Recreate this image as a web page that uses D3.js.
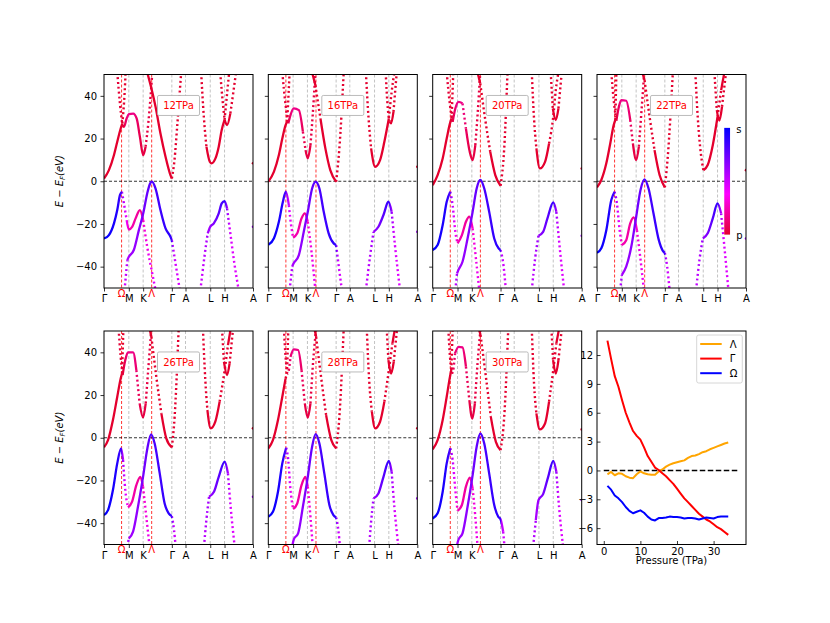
<!DOCTYPE html>
<html>
<head>
<meta charset="utf-8">
<script src="https://cdn.jsdelivr.net/npm/d3@7"></script>
<style>
body { margin: 0; background: #fff; }
svg { font-family: "DejaVu Sans", sans-serif; }
</style>
</head>
<body>
<svg id="fig" width="830" height="623"></svg>
<script>
// ---- k-path ----
var kTicks = [0, 0.1666, 0.2627, 0.4553, 0.547, 0.713, 0.809, 1];
var kLabels = ["Γ", "M", "K", "Γ", "A", "L", "H", "A"];
var kSpecial = [0.118, 0.32];
var kSpecialLabels = ["Ω", "Λ"];

var pressures = [12, 16, 20, 22, 26, 28, 30];

// bands: [k, E-Ef]
var bands12 = {
  Ca: [[0,1.3],[0.033,5.2],[0.067,12.3],[0.089,18.5],[0.112,24.7],[0.123,27],[0.138,41],[0.145,51]],
  Cb: [[0.089,51],[0.107,36.4],[0.123,26.3],[0.134,25.5],[0.152,29.4],[0.167,31.4],[0.196,31.7],[0.219,29.4],[0.241,20.8],[0.263,12.2],[0.279,16.2],[0.297,27],[0.3125,39.6],[0.324,51]],
  Cc: [[0.29,51],[0.318,43.5],[0.346,34.9],[0.379,22.4],[0.413,11.5],[0.446,2.9],[0.4553,1.3],[0.473,9.9],[0.491,25.5],[0.518,51]],
  Cd: [[0.652,51],[0.67,30.2],[0.6875,16.2],[0.71,9.1],[0.721,8.4],[0.748,10.7],[0.77,16.2],[0.79,24],[0.809,28.7],[0.826,41],[0.84,51]],
  Ce: [[0.78,51],[0.8,34.9],[0.81,28.7],[0.826,26.3],[0.848,31.8],[0.87,42.7],[0.886,51]],
  Va: [[0,-26.8],[0.033,-25.2],[0.067,-19.7],[0.089,-13.5],[0.107,-6.5],[0.12,-4.9],[0.134,-10.4],[0.152,-18.2],[0.1666,-22.6],[0.19,-21.3],[0.212,-17.4],[0.241,-13.5],[0.263,-18.2],[0.29,-30.7],[0.324,-43.2],[0.346,-51]],
  Vb: [[0.138,-51],[0.156,-37],[0.1666,-35.4],[0.2,-32.2],[0.234,-22.9],[0.263,-15.1],[0.29,-5.7],[0.31,-1],[0.322,-0.2],[0.346,-3.4],[0.379,-13.5],[0.413,-22.1],[0.446,-26],[0.4553,-27.6],[0.48,-38.5],[0.509,-51]],
  Vc: [[0.647,-51],[0.674,-35.4],[0.696,-24.4],[0.713,-21.3],[0.737,-19.7],[0.77,-15],[0.79,-10.4],[0.809,-9.3],[0.826,-12.7],[0.848,-24.4],[0.875,-38.5],[0.904,-51]]
};
var bands16 = {
  Ca: [[0,-0.2],[0.038,4.5],[0.071,12.3],[0.094,20],[0.116,26.3],[0.127,27.9],[0.143,51]],
  Cb: [[0.094,51],[0.116,35.7],[0.134,27.1],[0.149,31],[0.171,34.1],[0.205,33.3],[0.232,23.2],[0.25,14.6],[0.265,10.7],[0.283,16.9],[0.298,31],[0.316,51]],
  Cc: [[0.294,51],[0.316,45],[0.35,29.4],[0.383,15.4],[0.416,5.2],[0.4553,-0.2],[0.477,15.4],[0.506,51]],
  Cd: [[0.655,51],[0.673,29.4],[0.69,15.4],[0.717,6.8],[0.75,9.9],[0.779,18.5],[0.809,29.4],[0.828,41.9],[0.846,51]],
  Ce: [[0.788,51],[0.802,34.1],[0.815,27.9],[0.824,27.1],[0.84,32.5],[0.862,51]],
  Va: [[0,-29.8],[0.038,-26.7],[0.071,-19],[0.098,-9.6],[0.118,-4.9],[0.138,-11.2],[0.156,-22.1],[0.1666,-26.4],[0.194,-24.4],[0.223,-17.4],[0.245,-15],[0.265,-19],[0.29,-33],[0.316,-51]],
  Vb: [[0.143,-51],[0.16,-40],[0.1666,-38.9],[0.205,-34.6],[0.238,-23.7],[0.265,-14.3],[0.294,-3.4],[0.318,-0.2],[0.343,-3.4],[0.372,-14.3],[0.405,-24.4],[0.439,-29.1],[0.4553,-29.9],[0.472,-39.3],[0.494,-51]],
  Vc: [[0.655,-51],[0.684,-34.6],[0.706,-23.7],[0.739,-21.3],[0.773,-15.8],[0.806,-9.6],[0.828,-14.3],[0.85,-29.9],[0.884,-51]]
};
var bands20 = {
  Ca: [[0,-1.8],[0.033,2.9],[0.067,10.7],[0.094,20],[0.116,27.1],[0.127,29.4],[0.138,51]],
  Cb: [[0.094,51],[0.116,35.7],[0.134,27.9],[0.152,34.1],[0.174,37.2],[0.2,36.5],[0.223,24.7],[0.248,14],[0.268,9.9],[0.286,16.9],[0.301,31],[0.319,51]],
  Cc: [[0.301,51],[0.319,45.8],[0.353,28.7],[0.386,13.8],[0.42,2.9],[0.4553,-2.1],[0.48,15.4],[0.502,51]],
  Cd: [[0.665,51],[0.68,29.4],[0.696,15.4],[0.719,6],[0.754,9.1],[0.781,17.7],[0.809,30.2],[0.826,42.7],[0.844,51]],
  Ce: [[0.792,51],[0.806,34.1],[0.826,28.7],[0.844,34.1],[0.866,51]],
  Va: [[0,-32.2],[0.033,-29.9],[0.067,-20.5],[0.094,-9.6],[0.118,-4.9],[0.134,-11.2],[0.152,-23.7],[0.1666,-29.1],[0.196,-25.2],[0.223,-19],[0.246,-16.6],[0.268,-22.1],[0.29,-36.1],[0.3125,-51]],
  Vb: [[0.152,-51],[0.163,-43.2],[0.172,-41.6],[0.2,-37.7],[0.234,-26.8],[0.268,-14.3],[0.295,-3.4],[0.32,0.6],[0.346,-3.4],[0.379,-14.3],[0.413,-26.8],[0.442,-31.4],[0.4553,-32.2],[0.475,-39.3],[0.491,-51]],
  Vc: [[0.665,-51],[0.6875,-36.1],[0.71,-25.5],[0.741,-23.7],[0.77,-17.4],[0.809,-9.9],[0.83,-14.3],[0.853,-31.4],[0.882,-51]]
};
var bands22 = {
  Ca: [[0,-2.9],[0.029,0.6],[0.0625,8.4],[0.089,17.7],[0.112,26.3],[0.123,28.7],[0.13,51]],
  Cb: [[0.096,51],[0.112,38],[0.13,28.4],[0.147,34.9],[0.163,38],[0.196,37.7],[0.223,28.7],[0.241,17.7],[0.263,9.9],[0.281,16.2],[0.299,33.3],[0.317,51]],
  Cc: [[0.304,51],[0.319,47.4],[0.353,30.2],[0.386,14.6],[0.42,2.9],[0.4553,-2.9],[0.475,11.5],[0.509,51]],
  Cd: [[0.66,51],[0.676,30.2],[0.692,16.2],[0.714,5.2],[0.743,7.6],[0.777,16.9],[0.809,30.2],[0.833,42.7],[0.855,51]],
  Ce: [[0.788,51],[0.804,33.3],[0.821,28.4],[0.839,34.9],[0.866,51]],
  Va: [[0,-33.5],[0.029,-31.4],[0.0625,-22.9],[0.096,-8.8],[0.118,-4.9],[0.134,-10.4],[0.152,-22.9],[0.1666,-29.9],[0.196,-27.6],[0.223,-19.7],[0.246,-16.9],[0.268,-22.9],[0.29,-35.4],[0.315,-51]],
  Vb: [[0.156,-51],[0.1666,-43.9],[0.196,-40],[0.23,-30.7],[0.263,-16.6],[0.292,-4.1],[0.319,0.9],[0.346,-3.4],[0.379,-15],[0.415,-27.6],[0.442,-32.6],[0.4553,-33.5],[0.471,-40],[0.487,-51]],
  Vc: [[0.665,-51],[0.6875,-36.9],[0.71,-26.8],[0.743,-24.4],[0.777,-17.4],[0.809,-10.4],[0.833,-15],[0.855,-30.7],[0.882,-51]]
};
var bands26 = {
  Ca: [[0,-4.5],[0.027,-1.1],[0.06,8.3],[0.089,19.2],[0.112,27.8],[0.121,30.1],[0.13,51]],
  Cb: [[0.098,51],[0.112,37.9],[0.125,29.4],[0.143,36.4],[0.161,40],[0.195,40],[0.217,31.7],[0.239,16.1],[0.262,9.5],[0.28,16.1],[0.3,34.8],[0.318,51]],
  Cc: [[0.306,51],[0.318,47.3],[0.351,28.6],[0.385,11.4],[0.418,-0.3],[0.4553,-4.5],[0.474,9.8],[0.501,51]],
  Cd: [[0.664,51],[0.68,27],[0.694,13],[0.716,4.4],[0.747,7.5],[0.776,16.9],[0.81,31.7],[0.832,43.4],[0.85,51]],
  Ce: [[0.792,51],[0.805,35.6],[0.826,29.4],[0.843,34.8],[0.866,51]],
  Va: [[0,-36.2],[0.027,-33.9],[0.06,-24.5],[0.089,-12],[0.115,-5],[0.128,-10.4],[0.143,-24.5],[0.161,-32.6],[0.188,-30],[0.217,-22.2],[0.244,-18.3],[0.262,-22.9],[0.284,-37],[0.306,-51]],
  Vb: [[0.157,-51],[0.166,-47.2],[0.195,-44],[0.228,-32.3],[0.262,-18.3],[0.291,-5],[0.316,1.6],[0.34,-2.7],[0.374,-16.7],[0.407,-30.8],[0.434,-35.4],[0.4553,-36.7],[0.47,-43.2],[0.481,-51]],
  Vc: [[0.671,-51],[0.687,-38.6],[0.705,-27.6],[0.738,-25.3],[0.77,-18.3],[0.81,-11.2],[0.832,-16.7],[0.85,-32.3],[0.877,-51]]
};
var bands28 = {
  Ca: [[0,-5],[0.031,-1.1],[0.065,8.3],[0.094,19.2],[0.116,27.8],[0.125,31.7],[0.134,51]],
  Cb: [[0.105,51],[0.116,37.9],[0.131,30.1],[0.149,37.9],[0.171,41.4],[0.2,41.1],[0.223,31.7],[0.245,16.1],[0.265,9.4],[0.283,16.1],[0.3,34.8],[0.321,51]],
  Cc: [[0.31,51],[0.321,47.3],[0.354,28.6],[0.388,10.6],[0.423,-1.1],[0.4553,-5],[0.477,9.8],[0.506,51]],
  Cd: [[0.661,51],[0.677,27],[0.695,12.2],[0.717,4.4],[0.75,7.5],[0.779,16.9],[0.809,31.7],[0.833,44.2],[0.85,51]],
  Ce: [[0.795,51],[0.806,36.4],[0.824,30.1],[0.842,35.6],[0.864,51]],
  Va: [[0,-37],[0.031,-34.7],[0.065,-25.3],[0.094,-12],[0.12,-4.7],[0.134,-10.4],[0.149,-24.5],[0.1666,-33.4],[0.194,-30.8],[0.223,-22.2],[0.249,-18.3],[0.265,-22.9],[0.283,-37],[0.298,-51]],
  Vb: [[0.16,-51],[0.171,-47.6],[0.2,-44.8],[0.232,-32.3],[0.265,-18.3],[0.294,-4.2],[0.318,1.7],[0.343,-2.7],[0.376,-16.7],[0.41,-31.5],[0.437,-36.2],[0.4553,-37.3],[0.47,-43.2],[0.481,-51]],
  Vc: [[0.677,-51],[0.69,-39.3],[0.706,-28.4],[0.739,-26.1],[0.773,-18.3],[0.809,-10.8],[0.828,-15.9],[0.846,-32.3],[0.873,-51]]
};
var bands30 = {
  Ca: [[0,-5.4],[0.033,-1.1],[0.067,8.3],[0.094,19.2],[0.116,28.6],[0.125,31.7],[0.134,51]],
  Cb: [[0.105,51],[0.116,37.9],[0.132,30.4],[0.15,39.5],[0.174,42.6],[0.2,42.3],[0.223,33.3],[0.246,17.6],[0.266,9],[0.283,16.1],[0.301,34.8],[0.321,51]],
  Cc: [[0.31,51],[0.321,48.1],[0.357,28.6],[0.39,9.8],[0.424,-1.9],[0.4553,-5.8],[0.48,9.8],[0.507,51]],
  Cd: [[0.665,51],[0.68,25.5],[0.696,11.4],[0.719,3.9],[0.754,6.7],[0.781,16.9],[0.809,31.7],[0.83,44.2],[0.848,51]],
  Ce: [[0.797,51],[0.808,36.4],[0.826,30.1],[0.844,36.4],[0.866,51]],
  Va: [[0,-37.8],[0.033,-35.4],[0.067,-25.3],[0.094,-12],[0.118,-5],[0.134,-10.4],[0.152,-24.5],[0.1666,-34.2],[0.196,-31.5],[0.223,-22.9],[0.25,-18.7],[0.268,-23.7],[0.286,-37],[0.301,-51]],
  Vb: [[0.161,-51],[0.172,-47.9],[0.2,-44.8],[0.234,-32.3],[0.268,-17.5],[0.295,-4.2],[0.32,2],[0.346,-2.7],[0.379,-16.7],[0.413,-31.5],[0.44,-37],[0.4553,-38.2],[0.473,-44],[0.482,-51]],
  Vc: [[0.674,-51],[0.692,-38.6],[0.71,-29.2],[0.741,-26.4],[0.775,-18.3],[0.809,-10.8],[0.83,-15.9],[0.848,-32.3],[0.875,-51]]
};
var bandSets = [bands12, bands16, bands20, bands22, bands26, bands28, bands30];

// band energies at the A edge (k = 1): [conduction, valence]
var edgeEnergies = [[8.4,-21.3],[6.8,-23.7],[6,-25.5],[5.2,-26.8],[4.4,-27.6],[4.4,-28.4],[3.9,-29.2]];

// s-orbital weight along k for each band (0 = p, 1 = s)
var weightStops = {
  Ca: [[0,0],[1,0]],
  Cb: [[0,0],[0.13,0.02],[0.16,0.16],[0.2,0.16],[0.245,0.04],[1,0]],
  Cc: [[0,0],[1,0]],
  Cd: [[0,0],[1,0]],
  Ce: [[0,0],[1,0]],
  Va: [[0,1],[0.09,0.92],[0.118,0.8],[0.125,0.6],[0.14,0.48],[0.152,0.42],[0.1666,0.25],[0.245,0.18],[0.27,0.3],[0.32,0.45],[1,0.45]],
  Vb: [[0,0.5],[0.14,0.5],[0.1666,0.6],[0.23,0.66],[0.32,0.8],[0.44,0.9],[0.4553,0.85],[0.462,0.55],[0.48,0.48],[1,0.46]],
  Vc: [[0,0.47],[0.64,0.47],[0.7,0.6],[0.74,0.7],[0.809,0.88],[0.83,0.6],[0.85,0.46],[1,0.46]]
};

// ---- gap vs pressure ----
var pressureTPa = [1,2,3,4,5,6,7,8,9,10,11,12,13,14,15,16,17,18,19,20,21,22,23,24,25,26,27,28,29,30,31,32,33,34];
var gapLambda = [-0.4,-0.15,-0.5,-0.3,-0.35,-0.6,-0.75,-0.8,-0.4,-0.1,-0.3,-0.4,-0.45,-0.45,-0.1,0.1,0.4,0.6,0.75,0.85,0.95,1.05,1.3,1.5,1.55,1.7,1.9,2.0,2.2,2.35,2.5,2.65,2.8,2.9];
var gapGamma = [13.5,11.6,9.8,8.7,7.3,6.0,5.0,4.1,3.6,3.2,2.4,1.5,0.9,0.3,0.05,-0.3,-0.6,-1.0,-1.4,-1.9,-2.4,-2.9,-3.3,-3.7,-4.1,-4.5,-4.8,-5.1,-5.3,-5.6,-5.9,-6.1,-6.4,-6.7];
var gapOmega = [-1.6,-2.0,-2.6,-2.9,-3.3,-3.8,-4.2,-4.45,-4.3,-4.15,-4.4,-4.8,-5.1,-5.2,-4.95,-4.95,-4.9,-4.8,-4.85,-4.85,-4.9,-5.0,-4.95,-4.95,-5.0,-5.1,-5.0,-4.9,-4.95,-5.0,-4.85,-4.8,-4.8,-4.8];
var gapNames = ["Λ", "Γ", "Ω"];
var gapColors = ["orange", "red", "blue"];

// ---- layout ----
var colX = [104, 268.3, 432.7, 597];
var rowY = [74.5, 331];
var panelW = 149, panelH = 213.5;

var svg = d3.select("#fig");
var defs = svg.append("defs");

var orbitalColor = d3.scaleLinear()
  .domain([0, 0.38, 1])
  .range(["#e4002e", "#ff00ff", "#0000ff"])
  .interpolate(d3.interpolateRgb);

var curve = d3.line().curve(d3.curveMonotoneX);

var x = d3.scaleLinear().domain([0, 1]).range([0, panelW]);
var y = d3.scaleLinear().domain([-50, 50]).range([panelH, 0]);

// steep pieces of a band come out as dots, flat ones as a solid line;
// mixed s/p pieces thin out sooner, s-rich ones later
function drawBand(g, pts, stops, gradId)
{
    var weightAt = d3.scaleLinear()
        .domain(stops.map(function(s) { return s[0]; }))
        .range(stops.map(function(s) { return s[1]; }));
    var P = pts.map(function(p) { return [x(p[0]), y(p[1])]; });
    var steep = [];
    for (var i = 0; i < P.length - 1; i++) {
        var dx = Math.max(Math.abs(P[i+1][0] - P[i][0]), 0.01);
        var w = weightAt((pts[i][0] + pts[i+1][0]) / 2);
        var limit = w >= 0.6 ? 8 : (w > 0.3 ? 4.8 : 6.2);
        steep.push(Math.abs(P[i+1][1] - P[i][1]) / dx > limit);
    }
    var start = 0;
    for (var j = 1; j <= steep.length; j++) {
        if (j === steep.length || steep[j] !== steep[start]) {
            var run = P.slice(start, j + 1);
            var path = g.append("path")
                .attr("d", curve(run))
                .attr("fill", "none")
                .attr("stroke", "url(#" + gradId + ")");
            if (steep[start])
                path.attr("stroke-width", 2.4).attr("stroke-dasharray", "2,2.8");
            else
                path.attr("stroke-width", 2.3);
            start = j;
        }
    }
}

bandSets.forEach(function(bands, p)
{
    var row = Math.floor(p / 4), col = p % 4;
    var g = svg.append("g")
        .attr("transform", "translate(" + colX[col] + "," + rowY[row] + ")");

    defs.append("clipPath").attr("id", "clip" + p)
        .append("rect").attr("width", panelW).attr("height", panelH);

    var inner = g.append("g").attr("clip-path", "url(#clip" + p + ")");

    // guide lines
    inner.selectAll(".kline")
        .data(kTicks.slice(1, 7))
        .enter().append("line")
        .attr("x1", x).attr("x2", x)
        .attr("y1", 0).attr("y2", panelH)
        .attr("stroke", "#b4b4b4").attr("stroke-width", 0.8)
        .attr("stroke-dasharray", "3,2");

    inner.selectAll(".sline")
        .data(kSpecial)
        .enter().append("line")
        .attr("x1", x).attr("x2", x)
        .attr("y1", 0).attr("y2", panelH)
        .attr("stroke", "red").attr("stroke-width", 0.8)
        .attr("stroke-dasharray", "3,2");

    inner.append("line")
        .attr("x1", 0).attr("x2", panelW)
        .attr("y1", y(0)).attr("y2", y(0))
        .attr("stroke", "black").attr("stroke-width", 0.8)
        .attr("stroke-dasharray", "3,2");

    // bands
    Object.keys(bands).forEach(function(name)
    {
        var gradId = "g" + p + name;
        var grad = defs.append("linearGradient").attr("id", gradId)
            .attr("gradientUnits", "userSpaceOnUse")
            .attr("x1", 0).attr("x2", panelW).attr("y1", 0).attr("y2", 0);
        weightStops[name].forEach(function(s)
        {
            grad.append("stop").attr("offset", s[0]).attr("stop-color", orbitalColor(s[1]));
        });
        drawBand(inner, bands[name], weightStops[name], gradId);
    });

    inner.selectAll(".edge")
        .data(edgeEnergies[p])
        .enter().append("circle")
        .attr("cx", x(1)).attr("cy", y)
        .attr("r", 1.3)
        .attr("fill", function(d, i) { return i === 0 ? orbitalColor(0) : orbitalColor(0.6); });

    // pressure label
    var lab = g.append("g").attr("transform", "translate(" + x(0.5) + "," + y(35.5) + ")");
    lab.append("rect")
        .attr("x", -21).attr("y", -10).attr("width", 42).attr("height", 20)
        .attr("rx", 1.5)
        .attr("fill", "white").attr("stroke", "#aaaaaa").attr("stroke-width", 0.8);
    lab.append("text")
        .attr("text-anchor", "middle").attr("dy", "0.36em")
        .attr("font-size", 10).attr("fill", "red")
        .text(pressures[p] + "TPa");

    // colorbar in the 22 TPa panel
    if (p === 3) {
        var cg = defs.append("linearGradient").attr("id", "cbar")
            .attr("x1", 0).attr("x2", 0).attr("y1", 1).attr("y2", 0);
        [0, 0.19, 0.38, 0.69, 1].forEach(function(v)
        {
            cg.append("stop").attr("offset", v).attr("stop-color", orbitalColor(v));
        });
        g.append("rect")
            .attr("x", x(0.854)).attr("y", y(25))
            .attr("width", 5.8).attr("height", y(-25) - y(25))
            .attr("fill", "url(#cbar)");
        g.append("text").attr("x", x(0.854) + 12).attr("y", y(25) + 2)
            .attr("dy", "0.35em").attr("font-size", 10).text("s");
        g.append("text").attr("x", x(0.854) + 12).attr("y", y(-25) + 1)
            .attr("dy", "0.35em").attr("font-size", 10).text("p");
    }

    // axes
    var yAxis = g.append("g")
        .call(d3.axisLeft(y).tickValues([-40, -20, 0, 20, 40]).tickSize(3.5).tickPadding(3.5)
              .tickFormat(col === 0 ? d3.format("d") : ""));
    yAxis.select(".domain").remove();

    var xAxis = g.append("g")
        .attr("transform", "translate(0," + panelH + ")")
        .call(d3.axisBottom(x).tickValues(kTicks).tickSize(3.5).tickPadding(3.5)
              .tickFormat(function(d, i) { return kLabels[i]; }));
    xAxis.select(".domain").remove();

    g.selectAll(".tick text").attr("font-size", 10).attr("font-family", "DejaVu Sans").attr("fill", "black");
    g.selectAll(".tick line").attr("stroke", "black").attr("stroke-width", 0.8);

    g.selectAll(".klab")
        .data(kSpecial)
        .enter().append("text")
        .attr("x", x)
        .attr("y", panelH + 8.5)
        .attr("text-anchor", "middle")
        .attr("font-size", 10).attr("fill", "red")
        .text(function(d, i) { return kSpecialLabels[i]; });

    g.append("rect")
        .attr("width", panelW).attr("height", panelH)
        .attr("fill", "none").attr("stroke", "black").attr("stroke-width", 1);

    if (col === 0) {
        var yl = svg.append("text")
            .attr("transform", "translate(63," + (rowY[row] + panelH / 2) + ") rotate(-90)")
            .attr("text-anchor", "middle")
            .attr("font-size", 10).attr("font-style", "italic");
        yl.append("tspan").text("E − E");
        yl.append("tspan").attr("font-size", 7).attr("dy", 2).text("F");
        yl.append("tspan").attr("dy", -2).text("(eV)");
    }
});

// ---- gap vs pressure panel ----
var gp = svg.append("g")
    .attr("transform", "translate(" + colX[3] + "," + rowY[1] + ")");

var xs = d3.scaleLinear().domain([-1.85, 38.85]).range([0, panelW]);
var ys = d3.scaleLinear().domain([-7.7, 14.5]).range([panelH, 0]);

gp.append("line")
    .attr("x1", xs(0)).attr("x2", xs(37))
    .attr("y1", ys(0)).attr("y2", ys(0))
    .attr("stroke", "black").attr("stroke-width", 1.5)
    .attr("stroke-dasharray", "5.5,2.5");

var gapLine = d3.line()
    .x(function(d, i) { return xs(pressureTPa[i]); })
    .y(function(d) { return ys(d); });

[gapLambda, gapGamma, gapOmega].forEach(function(series, s)
{
    gp.append("path")
        .attr("d", gapLine(series))
        .attr("fill", "none")
        .attr("stroke", gapColors[s])
        .attr("stroke-width", 2)
        .attr("stroke-linejoin", "round");
});

var gyAxis = gp.append("g")
    .call(d3.axisLeft(ys).tickValues([-6, -3, 0, 3, 6, 9, 12]).tickSize(-3.5).tickPadding(4));
gyAxis.select(".domain").remove();
var gxAxis = gp.append("g")
    .attr("transform", "translate(0," + panelH + ")")
    .call(d3.axisBottom(xs).tickValues([0, 10, 20, 30]).tickSize(-3.5).tickPadding(3));
gxAxis.select(".domain").remove();
gp.selectAll(".tick text").attr("font-size", 10).attr("font-family", "DejaVu Sans").attr("fill", "black");
gp.selectAll(".tick line").attr("stroke", "black").attr("stroke-width", 0.8);

gp.append("text")
    .attr("x", panelW / 2).attr("y", panelH + 19.5)
    .attr("text-anchor", "middle").attr("font-size", 10)
    .text("Pressure (TPa)");

// legend
var lg = gp.append("g").attr("transform", "translate(99.7,4)");
lg.append("rect")
    .attr("width", 45.6).attr("height", 48).attr("rx", 2)
    .attr("fill", "white").attr("fill-opacity", 0.8)
    .attr("stroke", "#cccccc").attr("stroke-width", 0.8);
gapNames.forEach(function(name, i)
{
    var ly = 9 + i * 14.6;
    lg.append("line")
        .attr("x1", 3.5).attr("x2", 25).attr("y1", ly).attr("y2", ly)
        .attr("stroke", gapColors[i]).attr("stroke-width", 2);
    lg.append("text")
        .attr("x", 33).attr("y", ly).attr("dy", "0.35em")
        .attr("font-size", 10).text(name);
});

gp.append("rect")
    .attr("width", panelW).attr("height", panelH)
    .attr("fill", "none").attr("stroke", "black").attr("stroke-width", 1);
</script>
</body>
</html>
